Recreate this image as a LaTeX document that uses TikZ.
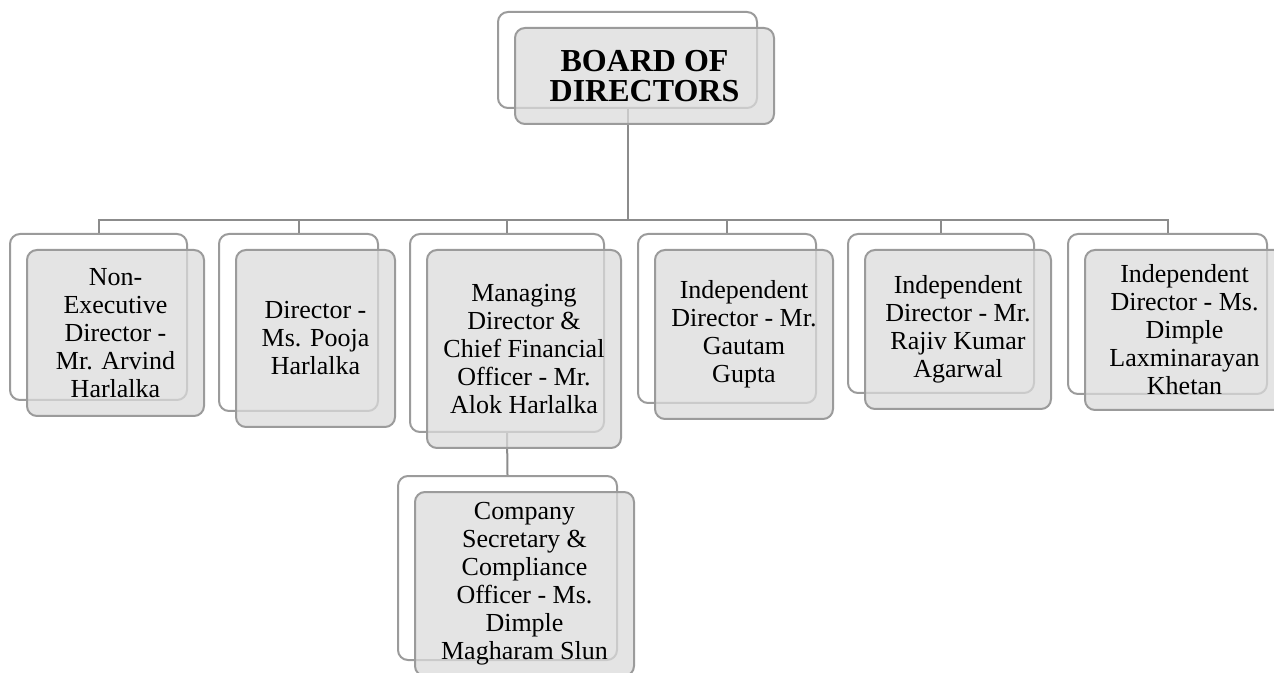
\documentclass[tikz,border=0pt]{standalone}
\usepackage{fontspec}
\setmainfont{Liberation Serif}
\definecolor{boxline}{RGB}{155,155,155}
\definecolor{boxfill}{RGB}{219,219,219}
\definecolor{linkline}{RGB}{140,140,140}

\begin{document}
\begin{tikzpicture}[x = 0.5pt, y = -0.5pt]
\tikzstyle{BackStyle}=[shape = rectangle, rounded corners = 5pt,
							draw = boxline, line width = 1pt, fill = white]
\tikzstyle{FrontStyle}=[BackStyle, fill = boxfill, fill opacity = 0.75,
							text opacity = 1, align = center,
							xshift = 8.5pt, yshift = -8pt,
							font = \fontsize{13}{14}\selectfont]
\tikzstyle{LinkStyle}=[draw = linkline, line width = 1pt]
\useasboundingbox (0,0) rectangle (1274,673);
% back cards
\node[BackStyle, minimum width = 129.5pt, minimum height = 48pt] (bod) at (627.5, 60) {};
\node[BackStyle, minimum width = 88.5pt, minimum height = 83pt] (ned) at (98.5, 317) {};
\node[BackStyle, minimum width = 79.5pt, minimum height = 88.5pt] (dir) at (298.5, 322.5) {};
\node[BackStyle, minimum width = 97pt, minimum height = 99pt] (mdc) at (507, 333) {};
\node[BackStyle, minimum width = 89pt, minimum height = 84.5pt] (idg) at (727, 318.5) {};
\node[BackStyle, minimum width = 93pt, minimum height = 79.5pt] (idr) at (941, 313.5) {};
\node[BackStyle, minimum width = 99.5pt, minimum height = 80pt] (idk) at (1167.5, 314) {};
\node[BackStyle, minimum width = 109.5pt, minimum height = 92pt] (cso) at (507.5, 568) {};
% connectors
\coordinate (bus) at (0, 220);
\foreach \c in {ned, dir, mdc, idg, idr, idk}
	\draw[LinkStyle] (bod.south) -- (bod.south |- bus) -| (\c.north);
\draw[LinkStyle] (mdc.south) -- (cso.north);
% front cards
\node[FrontStyle, minimum width = 129.5pt, minimum height = 48pt,
	font = \fontsize{16}{14.6}\selectfont\bfseries] (bodf) at (bod.center) {BOARD OF\\DIRECTORS};
\node[FrontStyle, minimum width = 88.5pt, minimum height = 83pt] (nedf) at (ned.center)
	{Non-\\Executive\\Director -\\Mr. Arvind\\Harlalka};
\node[FrontStyle, minimum width = 79.5pt, minimum height = 88.5pt] (dirf) at (dir.center)
	{Director -\\Ms. Pooja\\Harlalka};
\node[FrontStyle, minimum width = 97pt, minimum height = 99pt] (mdcf) at (mdc.center)
	{Managing\\Director \&\\Chief Financial\\Officer - Mr.\\Alok Harlalka};
\node[FrontStyle, minimum width = 89pt, minimum height = 84.5pt] (idgf) at (idg.center)
	{Independent\\Director - Mr.\\Gautam\\Gupta};
\node[FrontStyle, minimum width = 93pt, minimum height = 79.5pt] (idrf) at (idr.center)
	{Independent\\Director - Mr.\\Rajiv Kumar\\Agarwal};
\node[FrontStyle, minimum width = 99.5pt, minimum height = 80pt] (idkf) at (idk.center)
	{Independent\\Director - Ms.\\Dimple\\Laxminarayan\\Khetan};
\node[FrontStyle, minimum width = 109.5pt, minimum height = 92pt] (csof) at (cso.center)
	{Company\\Secretary \&\\Compliance\\Officer - Ms.\\Dimple\\Magharam Slun};
\end{tikzpicture}
\end{document}
